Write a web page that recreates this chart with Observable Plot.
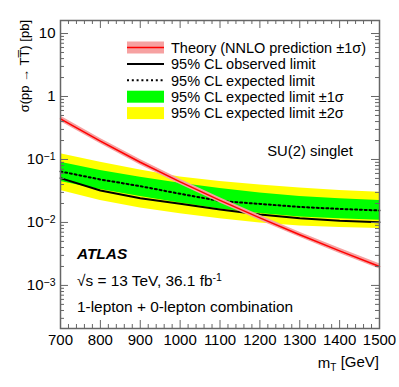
<!DOCTYPE html>
<html><head><meta charset="utf-8">
<script src="https://cdn.jsdelivr.net/npm/d3@7"></script>
<script src="https://cdn.jsdelivr.net/npm/@observablehq/plot@0.6"></script>
<style>
body{margin:0;background:#fff}
svg{display:block}
</style>
</head><body><div id="chart"></div>
<script>
// ---- data ----
const masses      = [700, 800, 900, 1000, 1100, 1200, 1300, 1400, 1500];
const theory      = [0.442, 0.196, 0.0903, 0.0442, 0.0224, 0.0118, 0.00639, 0.00354, 0.00200];
const theoryUp    = [0.488, 0.216, 0.0995, 0.0486, 0.0246, 0.0130, 0.00702, 0.00389, 0.00220];
const theoryDown  = [0.400, 0.177, 0.0818, 0.0400, 0.0203, 0.0107, 0.00580, 0.00321, 0.00182];
const observed    = [0.0505, 0.0322, 0.0243, 0.0198, 0.0161, 0.0134, 0.0117, 0.0106, 0.0101];
const expected    = [0.0645, 0.0481, 0.0377, 0.0285, 0.0219, 0.0197, 0.0176, 0.0164, 0.0155];
const exp1Up      = [0.0906, 0.0669, 0.0524, 0.0420, 0.0346, 0.0294, 0.0259, 0.0238, 0.0223];
const exp1Down    = [0.0447, 0.0334, 0.0259, 0.0204, 0.0164, 0.0139, 0.0122, 0.0114, 0.0108];
const exp2Up      = [0.1232, 0.0906, 0.0681, 0.0528, 0.0447, 0.0394, 0.0353, 0.0322, 0.0303];
const exp2Down    = [0.0322, 0.0223, 0.0169, 0.0137, 0.0114, 0.0098, 0.0088, 0.0083, 0.0080];

const xMajorTicks = [700, 800, 900, 1000, 1100, 1200, 1300, 1400, 1500];
const xMinorTicks = d3.range(700, 1501, 20).filter(v => v % 100 !== 0);
const yMajorTicks = [0.001, 0.01, 0.1, 1, 10];
const yTickLabels = ["10^-3", "10^-2", "10^-1", "1", "10"];
const yMinorTicks = [1e-4, 1e-3, 1e-2, 1e-1, 1, 10].flatMap(d => [2,3,4,5,6,7,8,9].map(k => +(k*d).toPrecision(3))).filter(v => v > 2.07e-4 && v < 16.1);

const legendLabels = [
  "Theory (NNLO prediction \u00b11\u03c3)",
  "95% CL observed limit",
  "95% CL expected limit",
  "95% CL expected limit \u00b11\u03c3",
  "95% CL expected limit \u00b12\u03c3"
];

const rows = masses.map((m, i) => ({
  m, th: theory[i], thUp: theoryUp[i], thDn: theoryDown[i],
  obs: observed[i], exp: expected[i],
  g1: exp1Down[i], g2: exp1Up[i], y1: exp2Down[i], y2: exp2Up[i]
}));

const FONT = "'Liberation Sans', Arial, Helvetica, sans-serif";
const AX = "#666";
const W = 399, H = 387, ML = 60, MR = 20, MT = 20, MB = 59;
const PW = W - ML - MR, PH = H - MT - MB;
const MAJ = 8, MIN = 4;

const chart = Plot.plot({
  width: W, height: H,
  marginLeft: ML, marginRight: MR, marginTop: MT, marginBottom: MB,
  style: {fontFamily: FONT, fontSize: "15px", background: "#fff", color: "#000"},
  x: {domain: [700, 1500]},
  y: {type: "log", domain: [2.07e-4, 16.1]},
  marks: [
    Plot.areaY(rows, {x: "m", y1: "y1", y2: "y2", fill: "#ffff00"}),
    Plot.areaY(rows, {x: "m", y1: "g1", y2: "g2", fill: "#00ff00"}),
    Plot.lineY(rows, {x: "m", y: "exp", stroke: "#000", strokeWidth: 2, strokeDasharray: "2,2.8"}),
    Plot.lineY(rows, {x: "m", y: "obs", stroke: "#000", strokeWidth: 2}),
    Plot.areaY(rows, {x: "m", y1: "thDn", y2: "thUp", fill: "#f6a1a1"}),
    Plot.lineY(rows, {x: "m", y: "th", stroke: "#ff0000", strokeWidth: 1.5}),
    // inward ticks (bottom/top, left/right)
    Plot.tickX(xMajorTicks, {x: d => d, insetTop: PH - MAJ, stroke: AX}),
    Plot.tickX(xMinorTicks, {x: d => d, insetTop: PH - MIN, stroke: AX}),
    Plot.tickX(xMajorTicks, {x: d => d, insetBottom: PH - MAJ, stroke: AX}),
    Plot.tickX(xMinorTicks, {x: d => d, insetBottom: PH - MIN, stroke: AX}),
    Plot.tickY(yMajorTicks, {y: d => d, insetRight: PW - MAJ, stroke: AX}),
    Plot.tickY(yMinorTicks, {y: d => d, insetRight: PW - MIN, stroke: AX}),
    Plot.tickY(yMajorTicks, {y: d => d, insetLeft: PW - MAJ, stroke: AX}),
    Plot.tickY(yMinorTicks, {y: d => d, insetLeft: PW - MIN, stroke: AX}),
    Plot.frame({stroke: AX, strokeWidth: 1.5}),
    // labels
    Plot.axisX({ticks: xMajorTicks, tickSize: 0, tickPadding: 6, tickFormat: d => String(d), label: null, fontSize: 15}),
    Plot.axisY({ticks: yMajorTicks, tickSize: 0, tickPadding: 5, tickFormat: d => yTickLabels[yMajorTicks.indexOf(d)], label: null, fontSize: 15})
  ]
});

document.getElementById("chart").appendChild(chart);
const svg = d3.select(chart);

// superscripts in y tick labels
svg.selectAll("text").each(function() {
  const t = this.textContent;
  if (t && t.startsWith("10^")) {
    const exp = t.slice(3).replace("-", "\u2212");
    const el = d3.select(this);
    el.text("10");
    el.append("tspan").attr("dy", "-0.45em").attr("font-size", "10.5px").text(exp);
  }
});

// axis titles
svg.append("text")
  .attr("transform", "translate(29,20) rotate(-90)")
  .attr("text-anchor", "end").attr("font-family", FONT).attr("font-size", "13px")
  .text("\u03c3(pp \u2192 TT\u0305) [pb]");

const xt = svg.append("text")
  .attr("x", 379).attr("y", 368).attr("text-anchor", "end")
  .attr("font-family", FONT).attr("font-size", "15px");
xt.append("tspan").text("m");
xt.append("tspan").attr("font-size", "10px").attr("dy", "0.3em").text("T");
xt.append("tspan").attr("dy", "-0.3em").text(" [GeV]");

// legend
const lx0 = 127, lx1 = 164, ltx = 171, ly0 = 47.5, ldy = 16.4;
const lg = svg.append("g").attr("font-family", FONT).attr("font-size", "14.5px").attr("text-anchor", "start");
legendLabels.forEach((lab, i) => {
  const cy = ly0 + i * ldy;
  if (i === 0) {
    lg.append("rect").attr("x", lx0).attr("y", cy - 6).attr("width", lx1 - lx0).attr("height", 12).attr("fill", "#f6a1a1");
    lg.append("line").attr("x1", lx0).attr("x2", lx1).attr("y1", cy).attr("y2", cy).attr("stroke", "#ff0000").attr("stroke-width", 1.5);
  } else if (i === 1) {
    lg.append("line").attr("x1", lx0).attr("x2", lx1).attr("y1", cy).attr("y2", cy).attr("stroke", "#000").attr("stroke-width", 2);
  } else if (i === 2) {
    lg.append("line").attr("x1", lx0).attr("x2", lx1).attr("y1", cy).attr("y2", cy).attr("stroke", "#000").attr("stroke-width", 2).attr("stroke-dasharray", "2,2.8");
  } else {
    lg.append("rect").attr("x", lx0).attr("y", cy - 6).attr("width", lx1 - lx0).attr("height", 12).attr("fill", i === 3 ? "#00ff00" : "#ffff00");
  }
  lg.append("text").attr("x", ltx).attr("y", cy).attr("dy", "0.36em").text(lab);
});

// annotations
const ann = svg.append("g").attr("font-family", FONT).attr("font-size", "15.4px").attr("text-anchor", "start");
ann.append("text").attr("x", 310).attr("y", 156).attr("text-anchor", "middle").attr("font-size", "14.8px").text("SU(2) singlet");
ann.append("text").attr("x", 77).attr("y", 258.5)
  .attr("font-weight", "bold").attr("font-style", "italic").text("ATLAS");
const en = ann.append("text").attr("x", 77).attr("y", 285.5);
en.append("tspan").text("\u221as = 13 TeV, 36.1 fb");
en.append("tspan").attr("dy", "-0.45em").attr("font-size", "10.5px").text("-1");
ann.append("text").attr("x", 77).attr("y", 312).text("1-lepton + 0-lepton combination");
</script>
</body></html>
